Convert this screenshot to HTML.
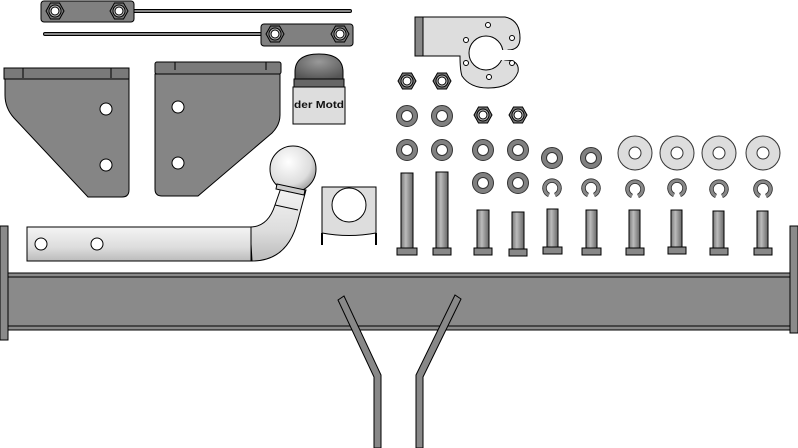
<!DOCTYPE html>
<html><head><style>html,body{margin:0;padding:0;background:#fff}svg{display:block}</style></head>
<body>
<svg width="798" height="448" viewBox="0 0 798 448" xmlns="http://www.w3.org/2000/svg" font-family="Liberation Sans, sans-serif">
<defs>
<linearGradient id="shaft" x1="0" x2="1"><stop offset="0" stop-color="#777"/><stop offset="0.4" stop-color="#bbb"/><stop offset="1" stop-color="#666"/></linearGradient>
<linearGradient id="bar" x1="0" y1="0" x2="0" y2="1"><stop offset="0" stop-color="#f4f4f4"/><stop offset="0.6" stop-color="#ddd"/><stop offset="1" stop-color="#bbb"/></linearGradient>
<radialGradient id="ball" cx="0.4" cy="0.35" r="0.7"><stop offset="0" stop-color="#fff"/><stop offset="0.7" stop-color="#ddd"/><stop offset="1" stop-color="#999"/></radialGradient>
<radialGradient id="dome" cx="0.5" cy="0.3" r="0.7"><stop offset="0" stop-color="#999"/><stop offset="1" stop-color="#555"/></radialGradient>
<g id="hnut"><polygon points="-9,0 -4.5,-8 4.5,-8 9,0 4.5,8 -4.5,8" fill="#777" stroke="#000" stroke-width="1"/><circle r="6" fill="#bbb" stroke="#000"/><circle r="4" fill="#fff" stroke="#000"/></g>
<g id="wash"><circle r="10.5" fill="#808080" stroke="#333"/><circle r="5.5" fill="#fff" stroke="#333"/></g>
<g id="big"><circle r="17" fill="#ddd" stroke="#333"/><circle r="6" fill="#fff" stroke="#333"/></g>
<g id="spring"><path d="M-3,7 A7.5,7.5 0 1 1 3,7" fill="none" stroke="#333" stroke-width="4.5"/><path d="M-3,7 A7.5,7.5 0 1 1 3,7" fill="none" stroke="#888" stroke-width="2.8"/></g>
</defs>

<!-- straps -->
<line x1="130" y1="11" x2="350" y2="11" stroke="#000" stroke-width="4" stroke-linecap="round"/>
<line x1="130" y1="11" x2="350" y2="11" stroke="#888" stroke-width="2" stroke-linecap="round"/>
<rect x="41" y="1" width="93" height="21" rx="3" fill="#808080" stroke="#000"/>
<use href="#hnut" x="55" y="11"/><use href="#hnut" x="119" y="11"/>
<line x1="45" y1="34" x2="265" y2="34" stroke="#000" stroke-width="4" stroke-linecap="round"/>
<line x1="45" y1="34" x2="265" y2="34" stroke="#888" stroke-width="2" stroke-linecap="round"/>
<rect x="261" y="24" width="92" height="22" rx="3" fill="#808080" stroke="#000"/>
<use href="#hnut" x="275" y="34"/><use href="#hnut" x="340" y="34"/>

<!-- bracket left -->
<path d="M5,78 L129,78 L129,190 Q129,197 122,197 L88,197 L14,118 Q5,108 5,95 Z" fill="#858585" stroke="#000"/>
<rect x="4" y="68" width="125" height="11" fill="#7a7a7a" stroke="#000"/>
<line x1="23" y1="68" x2="23" y2="78" stroke="#000"/><line x1="111" y1="68" x2="111" y2="78" stroke="#000"/>
<circle cx="106" cy="109" r="6" fill="#fff" stroke="#000"/><circle cx="106" cy="165" r="6" fill="#fff" stroke="#000"/>
<!-- bracket right -->
<path d="M155,74 L280,74 L280,115 Q280,125 272,133 L198,196 L162,196 Q155,196 155,189 Z" fill="#858585" stroke="#000"/>
<rect x="155" y="62" width="126" height="12" rx="2" fill="#7a7a7a" stroke="#000"/>
<line x1="175" y1="62" x2="175" y2="70" stroke="#000"/><line x1="266" y1="62" x2="266" y2="70" stroke="#000"/>
<circle cx="178" cy="107" r="6" fill="#fff" stroke="#000"/><circle cx="178" cy="163" r="6" fill="#fff" stroke="#000"/>

<!-- cap -->
<path d="M295,80 L295,72 Q295,54 319,54 Q343,54 343,72 L343,80 Z" fill="url(#dome)" stroke="#000"/>
<rect x="294" y="79" width="50" height="8" fill="#666" stroke="#000"/>
<rect x="293" y="87" width="52" height="37" fill="#ddd" stroke="#000"/>
<text x="319" y="108" text-anchor="middle" font-size="10" font-weight="bold" fill="#111" textLength="50" lengthAdjust="spacingAndGlyphs">der Motd</text>

<!-- tow arm -->
<path d="M250,227 Q268,227 275,205 L282,185 L306,190 L298,220 Q288,261 252,261 Z" fill="url(#bar)" stroke="#000"/>
<rect x="27" y="227" width="224" height="34" fill="url(#bar)" stroke="#000"/>
<line x1="275" y1="205" x2="298" y2="210" stroke="#000"/>
<circle cx="41" cy="244" r="6" fill="#fff" stroke="#000"/><circle cx="97" cy="244" r="6" fill="#fff" stroke="#000"/>
<circle cx="293" cy="169" r="23" fill="url(#ball)" stroke="#000"/>
<path d="M277,184 L305,190 L304,195 L276,189 Z" fill="#ccc" stroke="#000"/>

<!-- small clamp -->
<path d="M322,187 L376,187 L376,233 Q349,238 322,233 Z" fill="#ddd" stroke="#000"/>
<circle cx="349" cy="205" r="17" fill="#fff" stroke="#000"/>
<line x1="322" y1="233" x2="322" y2="245" stroke="#000" stroke-width="2"/><line x1="376" y1="233" x2="376" y2="245" stroke="#000" stroke-width="2"/>

<!-- socket plate -->
<path d="M423,17 L505,17 Q520,20 520,38 Q520,50 508,50 L505,60 Q520,60 518,72 Q512,88 488,88 Q470,88 462,76 Q460,70 460,56 L423,56 Z" fill="#ddd" stroke="#000"/>
<rect x="415" y="17" width="8" height="39" fill="#888" stroke="#000"/>
<circle cx="486" cy="53" r="17" fill="#fff" stroke="#000"/>
<rect x="500" y="50" width="22" height="10" fill="#fff"/>
<g fill="#fff" stroke="#000"><circle cx="488" cy="25" r="2.5"/><circle cx="466" cy="40" r="2.5"/><circle cx="512" cy="38" r="2.5"/><circle cx="466" cy="63" r="2.5"/><circle cx="512" cy="63" r="2.5"/><circle cx="489" cy="77" r="2.5"/></g>

<!-- hardware -->
<use href="#hnut" x="407" y="81"/><use href="#hnut" x="442" y="81"/>
<use href="#hnut" x="483" y="115"/><use href="#hnut" x="518" y="115"/>
<use href="#wash" x="407" y="116"/><use href="#wash" x="442" y="116"/>
<use href="#wash" x="407" y="150"/><use href="#wash" x="442" y="150"/><use href="#wash" x="483" y="150"/><use href="#wash" x="518" y="150"/>
<use href="#wash" x="552" y="158"/><use href="#wash" x="591" y="158"/>
<use href="#wash" x="483" y="183"/><use href="#wash" x="518" y="183"/>
<use href="#big" x="635" y="153"/><use href="#big" x="677" y="153"/><use href="#big" x="719" y="153"/><use href="#big" x="763" y="153"/>
<use href="#spring" x="552" y="188"/><use href="#spring" x="591" y="188"/><use href="#spring" x="635" y="189"/><use href="#spring" x="677" y="188"/><use href="#spring" x="719" y="189"/><use href="#spring" x="763" y="189"/>
<g stroke="#000">
<rect x="401" y="173" width="12" height="75" fill="url(#shaft)"/><rect x="397" y="248" width="20" height="7" fill="#888"/>
<rect x="436" y="172" width="12" height="76" fill="url(#shaft)"/><rect x="433" y="248" width="18" height="7" fill="#888"/>
<rect x="477" y="210" width="12" height="38" fill="url(#shaft)"/><rect x="474" y="248" width="18" height="7" fill="#888"/>
<rect x="512" y="212" width="12" height="37" fill="url(#shaft)"/><rect x="509" y="249" width="18" height="7" fill="#888"/>
<rect x="547" y="209" width="11" height="38" fill="url(#shaft)"/><rect x="543" y="247" width="19" height="7" fill="#888"/>
<rect x="586" y="210" width="11" height="38" fill="url(#shaft)"/><rect x="582" y="248" width="19" height="7" fill="#888"/>
<rect x="629" y="210" width="11" height="38" fill="url(#shaft)"/><rect x="626" y="248" width="18" height="7" fill="#888"/>
<rect x="671" y="210" width="11" height="37" fill="url(#shaft)"/><rect x="668" y="247" width="18" height="7" fill="#888"/>
<rect x="713" y="211" width="11" height="37" fill="url(#shaft)"/><rect x="710" y="248" width="18" height="7" fill="#888"/>
<rect x="757" y="211" width="11" height="37" fill="url(#shaft)"/><rect x="754" y="248" width="18" height="7" fill="#888"/>
</g>

<!-- main bar -->
<rect x="8" y="273" width="783" height="57" fill="#8a8a8a" stroke="#000"/>
<line x1="8" y1="277" x2="791" y2="277" stroke="#000"/><line x1="8" y1="326" x2="791" y2="326" stroke="#000"/>
<rect x="0" y="226" width="8" height="114" fill="#8a8a8a" stroke="#000"/>
<rect x="790" y="226" width="8" height="107" fill="#8a8a8a" stroke="#000"/>

<!-- Y brackets -->
<path d="M338,300 L344,296 L381,375 L381,448 L374,448 L374,377 Z" fill="#888" stroke="#000"/>
<path d="M461,299 L455,295 L416,375 L416,448 L423,448 L423,377 Z" fill="#888" stroke="#000"/>
</svg>
</body></html>
